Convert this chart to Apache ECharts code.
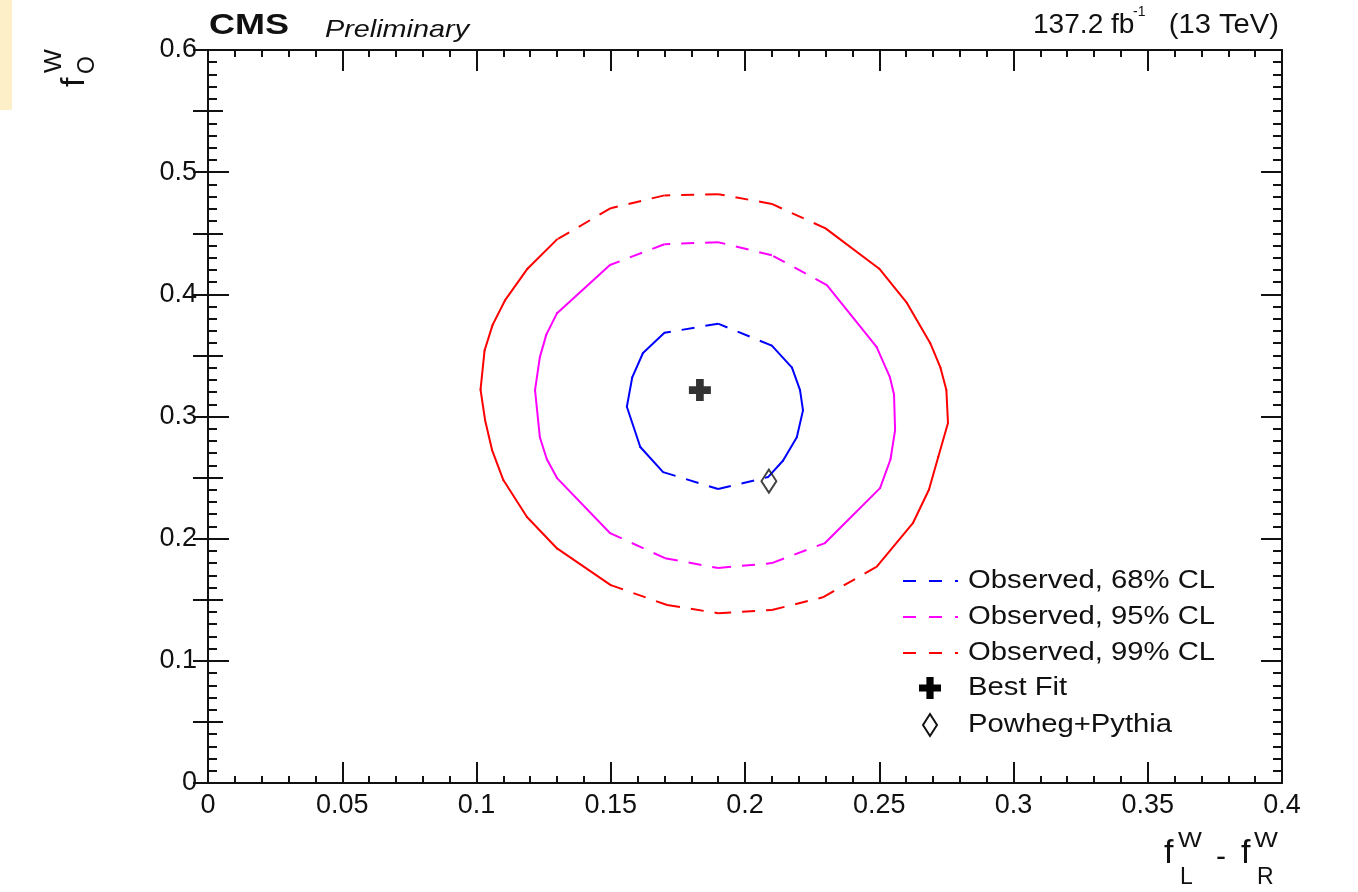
<!DOCTYPE html>
<html>
<head>
<meta charset="utf-8">
<title>W helicity fractions: likelihood contours</title>
<script src="https://cdn.jsdelivr.net/npm/echarts/dist/echarts.min.js"></script>
<style>
  html, body { margin: 0; padding: 0; background: #ffffff; }
  #chart { width: 1358px; height: 892px; }
</style>
</head>
<body>
<div id="chart"></div>
<script>
// ---- data --------------------------------------------------------------
// Observed likelihood contours in the (fL - fR, f0) plane, closed polygons
const contour68 = [
  [0.190, 0.376], [0.170, 0.3685], [0.162, 0.352], [0.158, 0.332], [0.156, 0.308],
  [0.161, 0.275], [0.1695, 0.2545], [0.190, 0.2406], [0.2086, 0.2504], [0.2142, 0.264],
  [0.2193, 0.283], [0.2216, 0.305], [0.2205, 0.3216], [0.2175, 0.340], [0.210, 0.358]
];
const contour95 = [
  [0.190, 0.4427], [0.170, 0.441], [0.1497, 0.424], [0.130, 0.3846], [0.126, 0.367],
  [0.1236, 0.3486], [0.1218, 0.3216], [0.1236, 0.283], [0.1262, 0.265], [0.130, 0.2496],
  [0.1497, 0.2046], [0.1702, 0.184], [0.190, 0.176], [0.210, 0.180], [0.2298, 0.1964],
  [0.2503, 0.2414], [0.2542, 0.265], [0.2559, 0.2889], [0.2555, 0.318], [0.254, 0.332],
  [0.249, 0.357], [0.2305, 0.4075], [0.210, 0.432]
];
const contour99 = [
  [0.190, 0.482], [0.170, 0.481], [0.150, 0.4705], [0.130, 0.445], [0.119, 0.421],
  [0.1106, 0.395], [0.106, 0.375], [0.103, 0.354], [0.1015, 0.322], [0.1032, 0.297],
  [0.1058, 0.2725], [0.110, 0.248], [0.1188, 0.2177], [0.130, 0.192], [0.150, 0.162],
  [0.171, 0.1457], [0.190, 0.139], [0.210, 0.1416], [0.229, 0.152], [0.249, 0.177],
  [0.2626, 0.213], [0.2685, 0.240], [0.272, 0.267], [0.2756, 0.2946], [0.275, 0.3216],
  [0.2728, 0.340], [0.269, 0.360], [0.2603, 0.393], [0.250, 0.421], [0.230, 0.454],
  [0.210, 0.474]
];
const bestFit = [[0.1832, 0.3216]];
const powhegPythia = [[0.2089, 0.2471]];

const xTickLabels = ['0', '0.05', '0.1', '0.15', '0.2', '0.25', '0.3', '0.35', '0.4'];
const yTickLabels = ['0', '0.1', '0.2', '0.3', '0.4', '0.5', '0.6'];
const legendLabels = ['Observed, 68% CL', 'Observed, 95% CL', 'Observed, 99% CL', 'Best Fit', 'Powheg+Pythia'];

// ---- helpers -----------------------------------------------------------
const FONT = '"Liberation Sans", Arial, Helvetica, sans-serif';
const INK = '#111111';
const DASH = [13, 11];

// split a closed polygon into its edges [x1, y1, x2, y2]
function edges(poly) {
  return poly.map((p, i) => {
    const q = poly[(i + 1) % poly.length];
    return [p[0], p[1], q[0], q[1]];
  });
}

// each edge restarts its dash pattern; steep edges are drawn solid
function edgeRenderer(color) {
  return function (params, api) {
    const a = api.coord([api.value(0), api.value(1)]);
    const b = api.coord([api.value(2), api.value(3)]);
    const dx = Math.abs(b[0] - a[0]);
    const dy = Math.abs(b[1] - a[1]);
    const dashed = dy < 0.6 * dx;
    return {
      type: 'line',
      shape: { x1: a[0], y1: a[1], x2: b[0], y2: b[1] },
      style: {
        stroke: color, lineWidth: 2,
        lineDash: dashed ? DASH : null,
        lineCap: dashed ? 'butt' : 'round'
      },
      silent: true
    };
  };
}

function contourSeries(name, poly, color) {
  return {
    type: 'custom', name: name,
    xAxisIndex: 0, yAxisIndex: 0,
    data: edges(poly),
    encode: { x: [0, 2], y: [1, 3] },
    renderItem: edgeRenderer(color),
    animation: false, z: 3
  };
}

function text(str, x, y, size, opts) {
  opts = opts || {};
  return {
    type: 'text', x: x, y: y, scaleX: opts.sx || 1, silent: true, z: 20,
    style: {
      text: str, fontSize: size, fontFamily: FONT,
      fontWeight: opts.bold ? 'bold' : 'normal',
      fontStyle: opts.italic ? 'italic' : 'normal',
      fill: INK, align: opts.align || 'left', verticalAlign: 'middle'
    }
  };
}

const PLUS = 'path://M6.5,0h7v6.5h6.5v7h-6.5v6.5h-7v-6.5h-6.5v-7h6.5z';
const plusPoints = [[-3.6,-11],[3.6,-11],[3.6,-3.6],[11,-3.6],[11,3.6],[3.6,3.6],
                    [3.6,11],[-3.6,11],[-3.6,3.6],[-11,3.6],[-11,-3.6],[-3.6,-3.6]];

// ---- axes --------------------------------------------------------------
function frameAxis(base) {
  return Object.assign({
    type: 'value',
    axisLine: { show: true, onZero: false, lineStyle: { color: INK, width: 2 } },
    splitLine: { show: false },
    axisTick: { show: true, inside: true, lineStyle: { color: INK, width: 2 } },
    minorTick: { show: true, lineStyle: { color: INK, width: 2 } },
    axisLabel: { show: false }
  }, base);
}

const labelStyle = { color: INK, fontSize: 27, fontFamily: FONT };

const xAxes = [
  frameAxis({ position: 'bottom', min: 0, max: 0.4, interval: 0.05,
    axisTick: { show: true, inside: true, length: 21, lineStyle: { color: INK, width: 2 } },
    minorTick: { show: true, splitNumber: 5, length: 7, lineStyle: { color: INK, width: 2 } },
    axisLabel: Object.assign({ show: true, margin: 9,
      formatter: v => xTickLabels[Math.round(v / 0.05)] }, labelStyle) }),
  frameAxis({ position: 'top', min: 0, max: 0.4, interval: 0.05,
    axisTick: { show: true, inside: true, length: 21, lineStyle: { color: INK, width: 2 } },
    minorTick: { show: true, splitNumber: 5, length: 7, lineStyle: { color: INK, width: 2 } } })
];

function yPair(position, withLabels) {
  return [
    frameAxis({ position: position, min: 0, max: 0.6, interval: 0.1,
      axisTick: { show: true, inside: true, length: 21, lineStyle: { color: INK, width: 2 } },
      minorTick: { show: true, splitNumber: 10, length: 9, lineStyle: { color: INK, width: 2 } },
      axisLabel: withLabels ? Object.assign({ show: true, margin: 11,
        formatter: v => yTickLabels[Math.round(v / 0.1)] }, labelStyle) : { show: false } }),
    // half-division ticks at 0.05
    frameAxis({ position: position, min: 0, max: 0.6, interval: 0.05,
      axisLine: { show: false },
      axisTick: { show: true, inside: true, length: 15, lineStyle: { color: INK, width: 2 } },
      minorTick: { show: false } })
  ];
}
const yAxes = yPair('left', true).concat(yPair('right', false));

// ---- titles and legend -------------------------------------------------
const graphics = [
  { type: 'rect', shape: { x: 0, y: 0, width: 12, height: 110 }, style: { fill: '#fdf0c8' }, silent: true },
  text('CMS', 209, 26, 30, { bold: true, sx: 1.2 }),
  text('Preliminary', 325, 30, 24, { italic: true, sx: 1.2 }),
  text('137.2 fb', 1033, 26, 27, { sx: 1.04 }),
  text('-1', 1133, 12, 14),
  text('(13 TeV)', 1279, 26, 27, { sx: 1.08, align: 'right' }),
  // x-axis title: fL^W - fR^W
  text('f', 1164, 854, 34),
  text('W', 1178, 841, 22, { sx: 1.15 }),
  text('L', 1180, 878, 23),
  text('-', 1216, 858, 30),
  text('f', 1241, 854, 34),
  text('W', 1254, 841, 22, { sx: 1.15 }),
  text('R', 1257, 878, 23),
  // y-axis title: f0^W, reading upwards
  { type: 'group', x: 0, y: 100, rotation: Math.PI / 2, children: [
      text('f', 13, 75, 34),
      text('W', 27, 55, 23, { sx: 1.1 }),
      text('O', 26, 88, 23)
  ] }
];

const legendColors = ['#0000ff', '#ff00ff', '#ff0000'];
const legendRows = [581, 617, 653, 688, 725];
legendLabels.forEach((lab, i) => {
  const y = legendRows[i];
  if (i < 3) {
    graphics.push({ type: 'line', silent: true, z: 20,
      shape: { x1: 903, y1: y, x2: 958, y2: y },
      style: { stroke: legendColors[i], lineWidth: 2, lineDash: [13, 13] } });
  } else if (i === 3) {
    graphics.push({ type: 'polygon', x: 930, y: y, silent: true, z: 20,
      shape: { points: plusPoints }, style: { fill: '#000' } });
  } else {
    graphics.push({ type: 'polygon', x: 930, y: y, silent: true, z: 20,
      shape: { points: [[0, -11], [7, 0], [0, 11], [-7, 0]] },
      style: { fill: 'none', stroke: INK, lineWidth: 2 } });
  }
  graphics.push(text(lab, 968, y, 25, { sx: 1.17 }));
});

// ---- chart -------------------------------------------------------------
const chart = echarts.init(document.getElementById('chart'));
chart.setOption({
  animation: false,
  backgroundColor: '#ffffff',
  grid: { left: 208, right: 76, top: 50, bottom: 109, containLabel: false },
  xAxis: xAxes,
  yAxis: yAxes,
  series: [
    contourSeries('Observed, 99% CL', contour99, '#ff0000'),
    contourSeries('Observed, 95% CL', contour95, '#ff00ff'),
    contourSeries('Observed, 68% CL', contour68, '#0000ff'),
    { type: 'scatter', name: 'Best Fit', data: bestFit, symbol: PLUS, symbolSize: 22,
      itemStyle: { color: '#000000' }, z: 5, silent: true },
    { type: 'scatter', name: 'Powheg+Pythia', data: powhegPythia, symbol: 'diamond',
      symbolSize: [15, 23], z: 5, silent: true,
      itemStyle: { color: 'rgba(0,0,0,0)', borderColor: INK, borderWidth: 2 } }
  ],
  graphic: graphics
});
</script>
</body>
</html>
